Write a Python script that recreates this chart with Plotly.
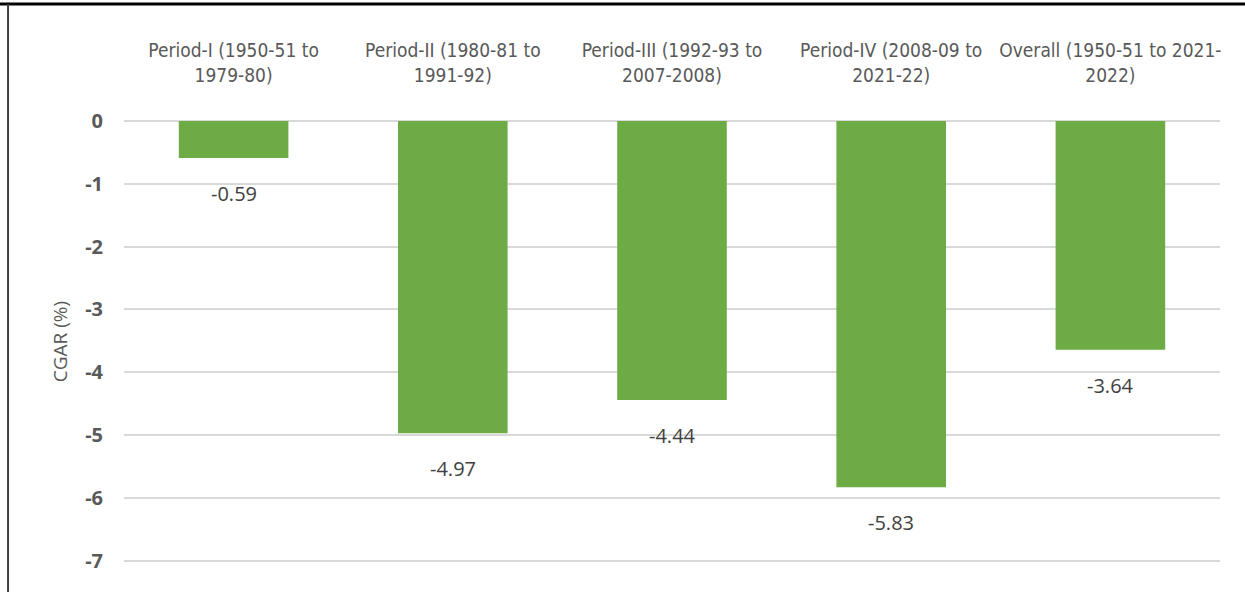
import plotly.graph_objects as go

categories = [
    "Period-I (1950-51 to<br>1979-80)",
    "Period-II (1980-81 to<br>1991-92)",
    "Period-III (1992-93 to<br>2007-2008)",
    "Period-IV (2008-09 to<br>2021-22)",
    "Overall (1950-51 to 2021-<br>2022)",
]
cgar = [-0.59, -4.97, -4.44, -5.83, -3.64]
y_ticks = [0, -1, -2, -3, -4, -5, -6, -7]

fig = go.Figure()
fig.add_trace(go.Bar(
    x=categories, y=cgar,
    width=0.5,
    marker=dict(color="#6dab45", line=dict(width=0)),
))

for c, v in zip(categories, cgar):
    fig.add_annotation(
        x=c, y=v, xref="x", yref="y",
        text=f"{v:.2f}", showarrow=False,
        yanchor="top", yshift=-20,
        font=dict(family="Open Sans, Noto Sans, sans-serif", size=20, color="#404040"),
    )

fig.update_layout(
    width=1245, height=592,
    margin=dict(l=124, r=25, t=121, b=30),
    paper_bgcolor="white", plot_bgcolor="white",
    showlegend=False,
    xaxis=dict(
        side="top",
        showgrid=False, zeroline=False, showline=False,
        tickfont=dict(family="Liberation Sans Narrow, DejaVu Sans Condensed, sans-serif", size=19, color="#595959"),
        ticklabelstandoff=34,
        fixedrange=True,
    ),
    yaxis=dict(
        range=[-7.02, 0],
        tickvals=y_ticks,
        ticktext=[str(t) for t in y_ticks],
        showgrid=True, gridcolor="#d9d9d9", gridwidth=1.5,
        zeroline=True, zerolinecolor="#d9d9d9", zerolinewidth=1.5,
        showline=False,
        tickfont=dict(family="Open Sans, Noto Sans, sans-serif", size=20, color="#595959", weight="bold"),
        ticklabelstandoff=20,
        title=dict(text="CGAR (%)", font=dict(family="Open Sans, Noto Sans, sans-serif", size=19, color="#595959"), standoff=12),
    ),
    shapes=[
        dict(type="line", xref="paper", yref="paper", x0=-0.12, x1=1.03, y0=1.2653, y1=1.2653,
             line=dict(color="black", width=3)),
        dict(type="line", xref="paper", yref="paper", x0=-0.1058, x1=-0.1058, y0=1.2653, y1=-0.08,
             line=dict(color="#404040", width=2)),
    ],
)

fig.write_html("out.html")
